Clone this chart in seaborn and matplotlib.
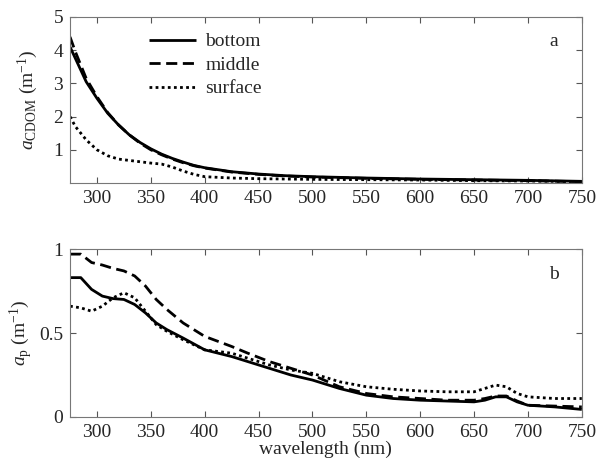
import pandas as pd
import matplotlib
matplotlib.use("Agg")
import matplotlib.pyplot as plt
import seaborn as sns

# wavelengths (nm) and absorption
wl_cdom = [275, 280, 290, 300, 310, 320, 330, 340, 350, 360, 370, 380, 390, 400,
           425, 450, 475, 500, 550, 600, 650, 700, 750]
cdom_bottom = [4.1, 3.75, 3.05, 2.55, 2.1, 1.75, 1.45, 1.22, 1.03, 0.87, 0.74, 0.63, 0.53, 0.46,
               0.34, 0.27, 0.22, 0.19, 0.15, 0.12, 0.10, 0.08, 0.05]
cdom_middle = [4.4, 3.95, 3.15, 2.6, 2.12, 1.75, 1.45, 1.2, 1.0, 0.85, 0.72, 0.61, 0.52, 0.45,
               0.33, 0.26, 0.21, 0.18, 0.14, 0.11, 0.09, 0.07, 0.04]
cdom_surface = [2.0, 1.7, 1.3, 1.0, 0.82, 0.72, 0.68, 0.64, 0.6, 0.57, 0.48, 0.36, 0.26, 0.19,
                0.15, 0.13, 0.12, 0.11, 0.10, 0.09, 0.07, 0.06, 0.04]

wl_p = [275, 285, 295, 305, 315, 325, 335, 345, 355, 365, 380, 400, 425, 440, 460, 480,
        500, 525, 550, 575, 600, 625, 650, 660, 670, 680, 690, 700, 725, 750]
p_bottom = [0.83, 0.83, 0.76, 0.72, 0.705, 0.70, 0.67, 0.62, 0.56, 0.52, 0.47, 0.40, 0.36, 0.33,
            0.29, 0.25, 0.22, 0.17, 0.13, 0.11, 0.10, 0.095, 0.09, 0.10, 0.12, 0.12, 0.09, 0.07,
            0.06, 0.045]
p_middle = [0.97, 0.97, 0.92, 0.905, 0.885, 0.87, 0.84, 0.78, 0.70, 0.64, 0.56, 0.48, 0.42, 0.38,
            0.33, 0.29, 0.25, 0.18, 0.14, 0.12, 0.11, 0.10, 0.10, 0.11, 0.125, 0.125, 0.095, 0.07,
            0.065, 0.06]
p_surface = [0.66, 0.65, 0.63, 0.66, 0.71, 0.74, 0.71, 0.63, 0.55, 0.51, 0.46, 0.40, 0.38, 0.35,
             0.31, 0.28, 0.26, 0.21, 0.18, 0.165, 0.155, 0.15, 0.15, 0.17, 0.19, 0.18, 0.14, 0.12,
             0.11, 0.11]

series = ["bottom", "middle", "surface"]


def long_df(wl, cols):
    parts = []
    for name, vals in zip(series, cols):
        parts.append(pd.DataFrame({"wl": wl, "val": vals, "depth": name}))
    return pd.concat(parts, ignore_index=True)


df_cdom = long_df(wl_cdom, [cdom_bottom, cdom_middle, cdom_surface])
df_p = long_df(wl_p, [p_bottom, p_middle, p_surface])

sns.set_style("ticks")
plt.rcParams["font.family"] = ["Liberation Serif", "DejaVu Serif"]
plt.rcParams["mathtext.fontset"] = "custom"
plt.rcParams["mathtext.rm"] = "Liberation Serif"
plt.rcParams["mathtext.it"] = "Liberation Serif:italic"
fs = 14

styles = {"bottom": (1, 0), "middle": (4, 2), "surface": (1, 1.2)}
pal = {s: "black" for s in series}

fig = plt.figure(figsize=(6, 4.69), dpi=100)
ax1 = fig.add_axes([0.1167, 0.6098, 0.853, 0.354])
ax2 = fig.add_axes([0.1167, 0.1109, 0.853, 0.358])

sns.lineplot(data=df_cdom, x="wl", y="val", hue="depth", style="depth", palette=pal,
             dashes=styles, linewidth=2, ax=ax1)
sns.lineplot(data=df_p, x="wl", y="val", hue="depth", style="depth", palette=pal,
             dashes=styles, linewidth=2, ax=ax2, legend=False)

for ax in (ax1, ax2):
    ax.set_xlim(275, 750)
    ax.set_xticks(range(300, 751, 50))
    ax.tick_params(direction="in", top=True, right=True, length=4, labelsize=fs,
                   color="#555555", pad=5)
    for sp in ax.spines.values():
        sp.set_visible(True)
        sp.set_color("#777777")
        sp.set_linewidth(0.8)

ax1.set_ylim(0, 5)
ax1.set_yticks([1, 2, 3, 4, 5])
ax1.set_xlabel("")
ax1.set_ylabel(r"$a_{\mathrm{CDOM}}$ (m$^{-1}$)", fontsize=fs)
ax1.yaxis.set_label_coords(-0.058, 0.5)
ax1.text(0.936, 0.85, "a", transform=ax1.transAxes, fontsize=fs, va="center")
leg = ax1.legend(loc="upper left", bbox_to_anchor=(0.12, 1.01), frameon=False, fontsize=fs,
                 handlelength=2.4, labelspacing=0.3, handletextpad=0.5)
for line in leg.get_lines():
    line.set_linewidth(2)

ax2.set_ylim(0, 1)
ax2.set_yticks([0, 0.5, 1])
ax2.set_yticklabels(["0", "0.5", "1"])
ax2.set_xlabel("wavelength (nm)", fontsize=fs, labelpad=0)
ax2.set_ylabel(r"$a_{\mathrm{p}}$ (m$^{-1}$)", fontsize=fs)
ax2.yaxis.set_label_coords(-0.068, 0.5)
ax2.text(0.936, 0.85, "b", transform=ax2.transAxes, fontsize=fs, va="center")

plt.savefig("out.png", dpi=100)
